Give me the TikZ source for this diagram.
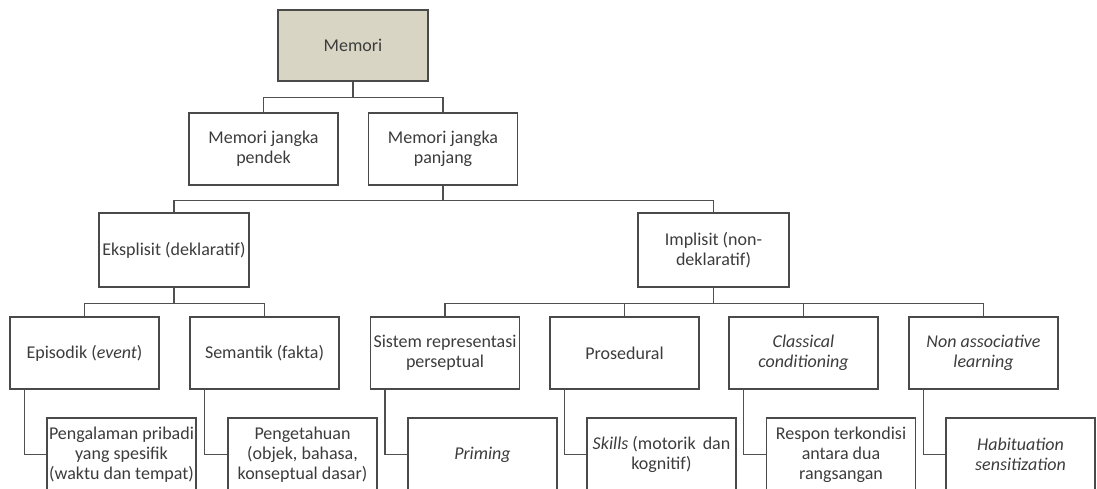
\documentclass[tikz,border=0pt]{standalone}
\usepackage{fontspec}
\setmainfont{Carlito}
\definecolor{boxline}{HTML}{4A4A4A}
\definecolor{lincol}{HTML}{505050}
\definecolor{txt}{HTML}{3C3C3C}
\definecolor{memfill}{HTML}{D8D5C5}
\begin{document}
\begin{tikzpicture}[x=1pt,y=-1pt,
  box/.style={draw=boxline, line width=1.3pt, minimum width=149pt, minimum height=72pt,
    align=center, inner sep=1pt, text=txt, font=\fontsize{18}{20}\selectfont},
  conn/.style={draw=lincol, line width=1.6pt}]
\useasboundingbox (0,0) rectangle (1097,489);
\clip (0,0) rectangle (1097,489);
% level 0
\node[box, fill=memfill, minimum width=150pt, minimum height=71pt] (mem) at (353,45.5) {Memori};
% level 1
\node[box] (pend) at (263.5,149) {Memori jangka\\pendek};
\node[box] (panj) at (443,149) {Memori jangka\\panjang};
% level 2
\node[box, minimum width=150pt, minimum height=74pt] (eks) at (174,250) {Eksplisit (deklaratif)};
\node[box, minimum width=151pt, minimum height=74pt] (imp) at (713.5,250) {Implisit (non-\\deklaratif)};
% level 3
\node[box] (epi) at (84.5,353) {Episodik (\textit{event})};
\node[box] (sem) at (264.5,353) {Semantik (fakta)};
\node[box] (sis) at (445,353) {Sistem representasi\\perseptual};
\node[box] (pro) at (624.5,353) {Prosedural};
\node[box] (cla) at (803.5,353) {\textit{Classical}\\\textit{conditioning}};
\node[box] (non) at (983.5,353) {\textit{Non associative}\\\textit{learning}};
% level 4
\node[box, minimum height=73pt] (peng) at (121.5,454.5) {Pengalaman pribadi\\yang spesifik\\(waktu dan tempat)};
\node[box, minimum height=73pt] (penget) at (302.5,454.5) {Pengetahuan\\(objek, bahasa,\\konseptual dasar)};
\node[box, minimum height=73pt] (prim) at (482.5,454.5) {\textit{Priming}};
\node[box, minimum height=73pt] (skil) at (661.5,454.5) {\textit{Skills} (motorik\, dan\\kognitif)};
\node[box, minimum height=73pt] (resp) at (841,454.5) {Respon terkondisi\\antara dua\\rangsangan};
\node[box, minimum height=73pt] (hab) at (1020.5,454.5) {\textit{Habituation}\\\textit{sensitization}};
% connectors
\draw[conn] (mem.south) -- ++(0,16) coordinate (j1);
\draw[conn] (pend.north) |- (j1) -| (panj.north);
\draw[conn] (panj.south) -- ++(0,15) coordinate (j2);
\draw[conn] (eks.north) |- (j2) -| (imp.north);
\draw[conn] (eks.south) -- ++(0,16) coordinate (j3);
\draw[conn] (epi.north) |- (j3) -| (sem.north);
\draw[conn] (imp.south) -- ++(0,16) coordinate (j4);
\draw[conn] (sis.north) |- (j4) -| (non.north);
\draw[conn] (pro.north) -- (pro.north |- j4);
\draw[conn] (cla.north) -- (cla.north |- j4);
\draw[conn] ([xshift=15pt]epi.south west) |- (peng.west);
\draw[conn] ([xshift=15pt]sem.south west) |- (penget.west);
\draw[conn] ([xshift=15pt]sis.south west) |- (prim.west);
\draw[conn] ([xshift=15pt]pro.south west) |- (skil.west);
\draw[conn] ([xshift=15pt]cla.south west) |- (resp.west);
\draw[conn] ([xshift=15pt]non.south west) |- (hab.west);
\end{tikzpicture}
\end{document}
